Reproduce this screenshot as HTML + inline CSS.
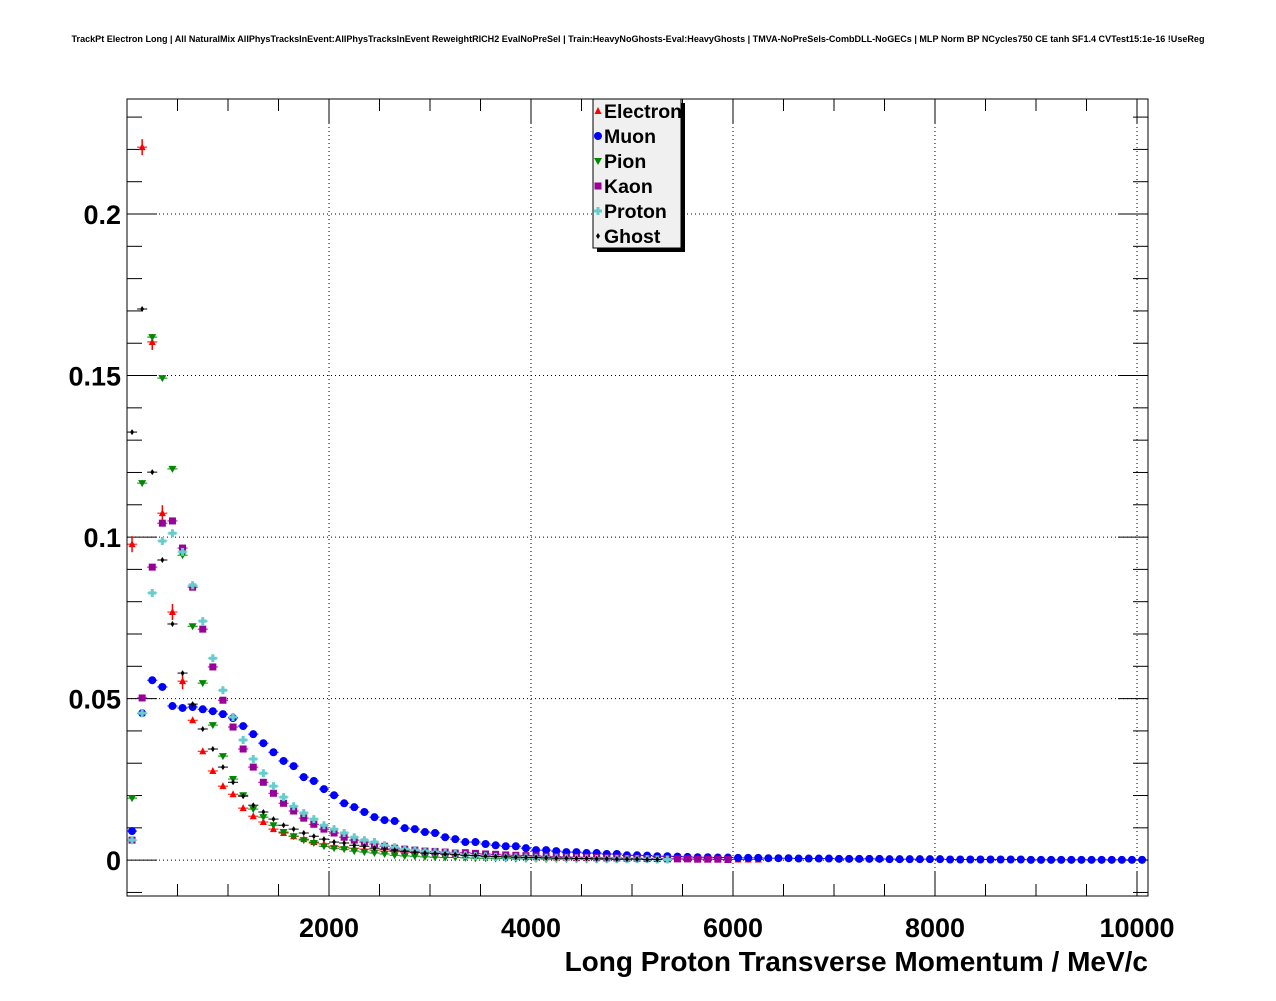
<!DOCTYPE html>
<html><head><meta charset="utf-8"><style>
body{margin:0;background:#fff;}
svg text{font-family:"Liberation Sans",sans-serif;font-weight:bold;}
</style></head><body>
<svg id="chart" width="1276" height="996" xmlns="http://www.w3.org/2000/svg">
<rect width="1276" height="996" fill="#fff"/>
<text x="638" y="42" font-size="9.05" text-anchor="middle">TrackPt Electron Long | All NaturalMix AllPhysTracksInEvent:AllPhysTracksInEvent ReweightRICH2 EvalNoPreSel | Train:HeavyNoGhosts-Eval:HeavyGhosts | TMVA-NoPreSels-CombDLL-NoGECs | MLP Norm BP NCycles750 CE tanh SF1.4 CVTest15:1e-16 !UseReg</text>
<g id="grid"></g>
<g id="axes"></g>
<g id="marks"></g>
<rect x="127" y="99" width="1021" height="797" fill="none" stroke="#000" stroke-width="1"/>
<text x="1148" y="971" font-size="28" text-anchor="end">Long Proton Transverse Momentum / MeV/c</text>
<g>
<rect x="597" y="103" width="88" height="149" fill="#000"/>
<rect x="593" y="99" width="88" height="149" fill="#f0f0f0" stroke="#000" stroke-width="1"/>
<g id="legend-items"></g>
</g>
</svg>
<script>
const binWidth = 100;
const electron = [0.0978,0.2207,0.1604,0.1074,0.0768,0.0554,0.0433,0.0337,0.0276,0.0229,0.0204,0.0161,0.0136,0.0118,0.0096,0.0084,0.0074,0.0065,0.0056,0.0050,0.0043,0.0040,0.0037,0.0034,0.0031,0.0028,0.0027,0.0025,0.0024,0.0022,0.0021,0.0019,0.0018,0.0016,0.0015,0.0014,0.0012,0.0012,0.0011,0.0010,0.0009,0.0009,0.0008,0.0008,0.0007,0.0007,0.0006,0.0006,0.0005,0.0005,0.0005,0.0004,0.0004,0.0004,0.0003,0.0003,0.0003,0.0003,0.0002,0.0002,0.0002,0.0002,0.0002];
const muon = [0.0090,0.0455,0.0557,0.0536,0.0477,0.0471,0.0474,0.0467,0.0461,0.0452,0.0440,0.0415,0.0390,0.0362,0.0334,0.0307,0.0291,0.0257,0.0245,0.0220,0.0201,0.0176,0.0164,0.0149,0.0133,0.0124,0.0121,0.0099,0.0096,0.0087,0.0084,0.0071,0.0065,0.0056,0.0056,0.0050,0.0046,0.0043,0.0043,0.0037,0.0031,0.0031,0.0028,0.0025,0.0025,0.0022,0.0022,0.0019,0.0019,0.0015,0.0015,0.0014,0.0012,0.0012,0.0011,0.0010,0.0009,0.0009,0.0008,0.0008,0.0007,0.0007,0.0007,0.0006,0.0006,0.0006,0.0005,0.0005,0.0005,0.0005,0.0004,0.0004,0.0004,0.0004,0.0004,0.0003,0.0003,0.0003,0.0003,0.0003,0.0003,0.0002,0.0002,0.0002,0.0002,0.0002,0.0002,0.0002,0.0002,0.0001,0.0001,0.0001,0.0001,0.0001,0.0001,0.0001,0.0001,0.0001,0.0001,0.0001,0.0001];
const pion = [0.0192,0.1167,0.1619,0.1492,0.1211,0.0944,0.0724,0.0548,0.0418,0.0322,0.0251,0.0201,0.0158,0.0133,0.0108,0.0087,0.0074,0.0062,0.0053,0.0043,0.0037,0.0034,0.0028,0.0025,0.0022,0.0019,0.0015,0.0013,0.0012,0.0010,0.0009,0.0008,0.0008,0.0007,0.0006,0.0006,0.0005,0.0005,0.0004,0.0004,0.0004,0.0003,0.0003,0.0003,0.0003,0.0002,0.0002,0.0002,0.0002,0.0002];
const kaon = [0.0062,0.0502,0.0907,0.1043,0.1050,0.0966,0.0845,0.0715,0.0598,0.0495,0.0412,0.0344,0.0288,0.0241,0.0207,0.0176,0.0152,0.0130,0.0111,0.0096,0.0084,0.0071,0.0062,0.0056,0.0050,0.0043,0.0037,0.0034,0.0031,0.0028,0.0027,0.0025,0.0022,0.0023,0.0021,0.0019,0.0018,0.0016,0.0015,0.0014,0.0013,0.0012,0.0011,0.0010,0.0009,0.0009,0.0008,0.0007,0.0007,0.0006,0.0006,0.0005,0.0005,0.0004,0.0004,0.0004,0.0003,0.0003,0.0003,0.0002];
const proton = [0.0062,0.0455,0.0827,0.0988,0.1012,0.0954,0.0851,0.0740,0.0625,0.0526,0.0443,0.0372,0.0313,0.0269,0.0229,0.0195,0.0167,0.0146,0.0127,0.0108,0.0096,0.0084,0.0071,0.0062,0.0056,0.0046,0.0040,0.0034,0.0031,0.0028,0.0025,0.0022,0.0019,0.0016,0.0013,0.0012,0.0010,0.0009,0.0009,0.0008,0.0007,0.0007,0.0006,0.0006,0.0005,0.0005,0.0004,0.0004,0.0004,0.0003,0.0003,0.0003,0.0002,0.0002];
const ghost = [0.1325,0.1706,0.1201,0.0929,0.0731,0.0579,0.0483,0.0406,0.0344,0.0288,0.0241,0.0198,0.0170,0.0149,0.0127,0.0108,0.0096,0.0084,0.0074,0.0065,0.0056,0.0053,0.0046,0.0043,0.0037,0.0034,0.0031,0.0028,0.0025,0.0022,0.0021,0.0019,0.0017,0.0015,0.0014,0.0012,0.0011,0.0010,0.0009,0.0008,0.0008,0.0007,0.0006,0.0006,0.0005,0.0005,0.0004,0.0004,0.0003,0.0003,0.0003,0.0002,0.0002];
const seriesNames = ["Electron","Muon","Pion","Kaon","Proton","Ghost"];
const xTicks = [2000,4000,6000,8000,10000];
const xTickLabels = ["2000","4000","6000","8000","10000"];
const yTicks = [0,0.05,0.1,0.15,0.2];
const yTickLabels = ["0","0.05","0.1","0.15","0.2"];

const NS="http://www.w3.org/2000/svg";
const X0=127,X1=1148,Y0=896,Y1=99;
const xMin=0,xMax=10109,yMin=-0.0111,yMax=0.2356;
function xs(v){return X0+(v-xMin)/(xMax-xMin)*(X1-X0);}
function ys(v){return Y0-(v-yMin)/(yMax-yMin)*(Y0-Y1);}
function mk(tag,attrs,parent){const e=document.createElementNS(NS,tag);for(const k in attrs)e.setAttribute(k,attrs[k]);parent.appendChild(e);return e;}

const grid=document.getElementById('grid');
const axes=document.getElementById('axes');
xTicks.forEach((t,i)=>{
  const l=mk('line',{x1:xs(t),x2:xs(t),y1:Y1,y2:Y0,stroke:'#000','stroke-dasharray':'1,3','stroke-width':1},grid);
  
  
  const tx=mk('text',{x:xs(t),y:937,'font-size':27,'text-anchor':'middle'},axes);
  tx.textContent=xTickLabels[i];
  
  
});
yTicks.forEach((t,i)=>{
  if(t!==0){const l=mk('line',{x1:X0,x2:X1,y1:ys(t),y2:ys(t),stroke:'#000','stroke-dasharray':'1,3','stroke-width':1},grid);
  
  }
  const tx=mk('text',{x:121,y:ys(t)+10,'font-size':27,'text-anchor':'end'},axes);
  tx.textContent=yTickLabels[i];
  
  
});
if(true){const l=mk('line',{x1:X0,x2:X1,y1:ys(0),y2:ys(0),stroke:'#000','stroke-dasharray':'1,3'},grid);

}
for(let k=-1;k<=23;k++){const v=k*0.01;const y=ys(v);if(y<Y1||y>Y0)continue;const major=(k%5===0);const len=major?30:15;
  const a=mk('line',{x1:X0,x2:X0+len,y1:y,y2:y,stroke:'#000'},axes);
  
  
  const b=mk('line',{x1:X1,x2:X1-len,y1:y,y2:y,stroke:'#000'},axes);
  
  }
for(let k=1;k<=20;k++){const v=k*500;const x=xs(v);if(x>X1)continue;const major=(k%4===0);const len=major?24:12;
  const a=mk('line',{x1:x,x2:x,y1:Y0,y2:Y0-len,stroke:'#000'},axes);
  
  
  const b=mk('line',{x1:x,x2:x,y1:Y1,y2:Y1+len,stroke:'#000'},axes);
  
  }

const colors={Electron:'#ff0000',Muon:'#0000ff',Pion:'#008800',Kaon:'#990099',Proton:'#66cccc',Ghost:'#000000'};
function marker(name,x,y,parent){
  const c=colors[name];let e;
  if(name==='Electron') e=mk('polygon',{points:`${x},${y-4} ${x-3.5},${y+3} ${x+3.5},${y+3}`,fill:c},parent);
  else if(name==='Muon') e=mk('circle',{cx:x,cy:y,r:4,fill:c},parent);
  else if(name==='Pion') e=mk('polygon',{points:`${x-4},${y-3} ${x+4},${y-3} ${x},${y+4}`,fill:c},parent);
  else if(name==='Kaon') e=mk('rect',{x:x-3.5,y:y-3.5,width:7,height:7,fill:c},parent);
  else if(name==='Proton') e=mk('path',{d:`M${x-4},${y}H${x+4}M${x},${y-4}V${y+4}`,stroke:c,'stroke-width':3},parent);
  else e=mk('polygon',{points:`${x},${y-3} ${x+2},${y} ${x},${y+3} ${x-2},${y}`,fill:c},parent);
  return e;
}
const marks=document.getElementById('marks');
const dataSets={Electron:electron,Muon:muon,Pion:pion,Kaon:kaon,Proton:proton,Ghost:ghost};
seriesNames.forEach(name=>{
  const g=mk('g',{},marks);
  
  
  dataSets[name].forEach((v,i)=>{
    const x=xs((i+0.5)*binWidth);const y=ys(v);
    if(x>X1)return;
    const h=mk('line',{x1:xs(i*binWidth),x2:xs((i+1)*binWidth),y1:y,y2:y,stroke:colors[name],'stroke-width':1},g);
    
    
    if(name==='Electron'&&v>0.05){const ev=mk('line',{x1:x,x2:x,y1:y-8,y2:y+8,stroke:colors[name],'stroke-width':1.5},g);
      
      }
    const m=marker(name,x,y,g);
    
    
  });
});
const li=document.getElementById('legend-items');
seriesNames.forEach((name,i)=>{
  const y=111+i*25;
  const m=marker(name,598,y,li);
  
  
  const t=mk('text',{x:604,y:y+7,'font-size':19.5},li);
  t.textContent=name;
  
  
});
</script>
</body></html>
